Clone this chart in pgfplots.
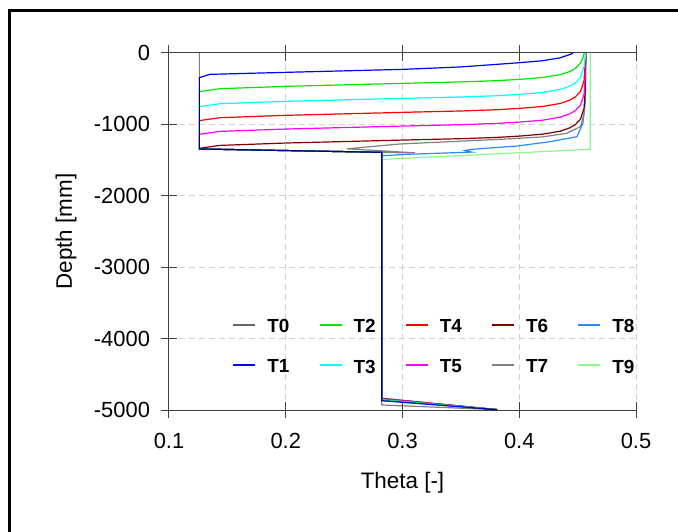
\documentclass[border=0pt]{standalone}
\usepackage{fontspec}
\setmainfont{Liberation Sans}
\usepackage{pgfplots}
\pgfplotsset{compat=1.18}
\definecolor{c0}{RGB}{0,0,0}
\definecolor{c1}{RGB}{0,0,255}
\definecolor{c2}{RGB}{0,230,0}
\definecolor{c3}{RGB}{0,255,255}
\definecolor{c4}{RGB}{255,0,0}
\definecolor{c5}{RGB}{255,0,255}
\definecolor{c6}{RGB}{128,0,0}
\definecolor{c7}{RGB}{128,128,128}
\definecolor{c8}{RGB}{40,140,255}
\definecolor{c9}{RGB}{140,245,140}
\begin{document}
\begin{tikzpicture}
\useasboundingbox (-84.5bp,-61bp) rectangle (254.5bp,205bp);
\draw[line width=1.5bp] (-79.5bp,-90bp) -- (-79.5bp,199.5bp) -- (290bp,199.5bp);
\begin{axis}[
  at={(0,0)}, anchor=south west,
  width=233.5bp, height=178.5bp, scale only axis,
  xmin=0.1, xmax=0.5, ymin=-5000, ymax=0,
  xtick={0.1,0.2,0.3,0.4,0.5},
  ytick={-5000,-4000,-3000,-2000,-1000,0},
  axis x line=box, axis y line=left,
  axis line style={-, draw=black!75, line width=0.5bp},
  tick align=center, major tick length=8bp,
  tick style={draw=black!75, line width=0.5bp},
  grid=major,
  grid style={dash pattern=on 3bp off 2bp, draw=black!18, line width=0.5bp},
  /pgf/number format/assume math mode=true,
  scaled ticks=false,
  ticklabel style={font=\fontsize{11}{13}\selectfont},
  xticklabel style={yshift=-4bp, /pgf/number format/.cd, fixed, fixed zerofill, precision=1},
  yticklabel style={xshift=-2bp, /pgf/number format/.cd, fixed, 1000 sep={}},
  xlabel={Theta [-]}, ylabel={Depth [mm]},
  label style={font=\fontsize{11.25}{13}\selectfont},
  xlabel style={at={(axis description cs:0.5,-0.205)}, anchor=center},
  ylabel style={at={(axis description cs:-0.2206,0.5)}, anchor=center},
  legend style={at={(rel axis cs:1.019,0.0716)}, anchor=south east, draw=none, fill=none,
    font=\fontsize{9.5}{11}\selectfont\bfseries, row sep=8bp,
    /tikz/every odd column/.append style={column sep=3.5bp},
    /tikz/every even column/.append style={column sep=12.6bp}},
  legend columns=5, legend cell align=left,
  legend image code/.code={\draw[#1, line width=1bp] (0bp,1.3bp) -- (11bp,1.3bp);},
  every axis plot/.append style={line width=0.6bp},
]
% T9
\addplot[c9, forget plot] coordinates {(0.4608,0) (0.4608,-1349) (0.2823,-1490) (0.2823,-4835) (0.381,-4995)};
% T8
\addplot[c8, forget plot] coordinates {(0.457,0) (0.4565,-700) (0.4545,-985) (0.4494,-1172) (0.4265,-1242) (0.398,-1303) (0.3594,-1349) (0.3535,-1365) (0.3594,-1388) (0.3037,-1419) (0.2823,-1440) (0.2823,-4836) (0.381,-4995)};
% T7
\addplot[c7, forget plot] coordinates {(0.457,0) (0.4565,-600) (0.4555,-850) (0.4525,-1030) (0.4408,-1125) (0.42,-1175) (0.3836,-1209) (0.298,-1274) (0.2523,-1342) (0.3108,-1398) (0.2823,-1394) (0.2823,-4838) (0.381,-4995)};
% T6  F=-1335
\addplot[c6, forget plot] coordinates {(0.457,0) (0.4565,-535) (0.4555,-775) (0.4525,-925) (0.4479,-1005) (0.443,-1050) (0.435,-1095) (0.42,-1137) (0.4008,-1163) (0.38,-1183) (0.35,-1200) (0.3008,-1219) (0.2,-1261) (0.1437,-1294) (0.126,-1335) (0.126,-1344) (0.2823,-1391) (0.2823,-4840) (0.381,-4995)};
% T5  F=-1139
\addplot[c5, forget plot] coordinates {(0.457,0) (0.4565,-339) (0.4555,-579) (0.4525,-729) (0.4479,-809) (0.443,-854) (0.435,-899) (0.42,-941) (0.4008,-967) (0.38,-987) (0.35,-1004) (0.3008,-1023) (0.2,-1065) (0.1437,-1098) (0.126,-1139) (0.126,-1344) (0.2823,-1391) (0.2823,-4845) (0.381,-4995)};
% T4  F=-947
\addplot[c4, forget plot] coordinates {(0.457,0) (0.4565,-147) (0.4555,-387) (0.4525,-537) (0.4479,-617) (0.443,-662) (0.435,-707) (0.42,-749) (0.4008,-775) (0.38,-795) (0.35,-812) (0.3008,-831) (0.2,-873) (0.1437,-906) (0.126,-947) (0.126,-1344) (0.2823,-1391) (0.2823,-4850) (0.381,-4995)};
% T3  F=-751
\addplot[c3, forget plot] coordinates {(0.457,0) (0.4555,-191) (0.4525,-341) (0.4479,-421) (0.443,-466) (0.435,-511) (0.42,-553) (0.4008,-579) (0.38,-599) (0.35,-616) (0.3008,-635) (0.2,-677) (0.1437,-710) (0.126,-751) (0.126,-1344) (0.2823,-1391) (0.2823,-4855) (0.381,-4995)};
% T2  F=-541
\addplot[c2, forget plot] coordinates {(0.4557,0) (0.4545,-70) (0.4525,-140) (0.4479,-220) (0.443,-262) (0.435,-304) (0.42,-343) (0.4008,-369) (0.38,-388) (0.35,-405) (0.3008,-425) (0.2,-467) (0.1437,-500) (0.126,-541) (0.126,-1344) (0.2823,-1391) (0.2823,-4862) (0.381,-4995)};
% T1  F=-345
\addplot[c1, forget plot] coordinates {(0.446,0) (0.4445,-14) (0.44,-40) (0.435,-68) (0.42,-108) (0.4008,-135) (0.38,-160) (0.35,-195) (0.3008,-229) (0.2,-271) (0.1351,-299) (0.126,-345) (0.126,-1344) (0.2823,-1391) (0.2823,-4870) (0.381,-4995)};
% T0
\addplot[c0, opacity=0.5, forget plot] coordinates {(0.126,0) (0.126,-1344) (0.2823,-1391) (0.2823,-4930) (0.381,-4995)};
\addlegendimage{c0, opacity=0.6}\addlegendentry{T0}
\addlegendimage{c2}\addlegendentry{T2}
\addlegendimage{c4}\addlegendentry{T4}
\addlegendimage{c6}\addlegendentry{T6}
\addlegendimage{c8}\addlegendentry{T8}
\addlegendimage{c1}\addlegendentry{T1}
\addlegendimage{c3}\addlegendentry{T3}
\addlegendimage{c5}\addlegendentry{T5}
\addlegendimage{c7}\addlegendentry{T7}
\addlegendimage{c9}\addlegendentry{T9}
\end{axis}
\end{tikzpicture}
\end{document}
